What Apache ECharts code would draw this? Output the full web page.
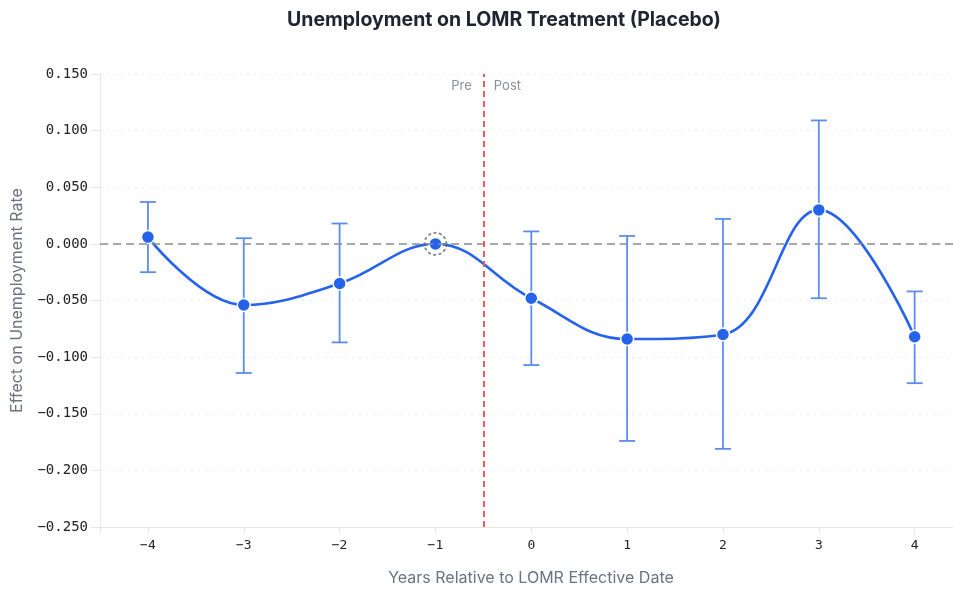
<!DOCTYPE html>
<html>
<head>
<meta charset="utf-8">
<script src="https://cdn.jsdelivr.net/npm/echarts@6/dist/echarts.min.js"></script>
<style>
  html, body { margin: 0; padding: 0; background: #ffffff; }
  #chart { width: 953px; height: 591px; }
</style>
</head>
<body>
<div id="chart"></div>
<script>
// Event-study estimates: years relative to the LOMR effective date
const years = [-4, -3, -2, -1, 0, 1, 2, 3, 4];
const estimates = [0.006, -0.054, -0.035, 0.000, -0.048, -0.084, -0.080, 0.030, -0.082];
const ciLower = [-0.025, -0.114, -0.087, null, -0.107, -0.174, -0.181, -0.048, -0.123];
const ciUpper = [0.037, 0.005, 0.018, null, 0.011, 0.007, 0.022, 0.109, -0.042];
const referenceYear = -1;
const treatmentBoundary = -0.5;
const yTicks = [-0.25, -0.2, -0.15, -0.1, -0.05, 0, 0.05, 0.1, 0.15];

const MINUS = '\u2212';
const fmtY = v => (v < -1e-9 ? MINUS : '') + Math.abs(v).toFixed(3);
const fmtX = v => (v < 0 ? MINUS : '') + Math.abs(Math.round(v));

const lineData = years.map((x, i) => [x, estimates[i]]);
const barData = years
  .map((x, i) => [x, ciLower[i], ciUpper[i]])
  .filter(d => d[1] != null && d[2] != null);

const chart = echarts.init(document.getElementById('chart'), null, { renderer: 'canvas' });

const sans = 'Inter, "Noto Sans", sans-serif';
const mono = '"DejaVu Sans Mono", monospace';
const gray = '#6b7280';
const light = '#e5e7eb';

chart.setOption({
  animation: false,
  backgroundColor: '#ffffff',
  title: {
    text: 'Unemployment on LOMR Treatment (Placebo)',
    left: 282,
    top: 5,
    textStyle: { fontFamily: sans, fontSize: 19.5, fontWeight: 'bold', color: '#1f2430' }
  },
  grid: { left: 100, right: 0, top: 74, bottom: 62, containLabel: false },
  xAxis: {
    type: 'value',
    min: -4.5,
    max: 4.4,
    name: 'Years Relative to LOMR Effective Date',
    nameLocation: 'middle',
    nameGap: 43,
    nameTextStyle: { fontFamily: sans, fontSize: 16, color: gray, padding: [0, 0, 0, 9] },
    axisLine: { show: true, onZero: false, lineStyle: { color: light, width: 1 } },
    axisTick: { show: true, length: 7, lineStyle: { color: light }, customValues: [-4.5].concat(years) },
    axisLabel: { customValues: years, formatter: fmtX, fontFamily: mono, fontSize: 13, color: '#222', margin: 12 },
    splitLine: { show: false }
  },
  yAxis: {
    type: 'value',
    min: -0.25,
    max: 0.15,
    interval: 0.05,
    name: 'Effect on Unemployment Rate',
    nameLocation: 'middle',
    nameGap: 75,
    nameTextStyle: { fontFamily: sans, fontSize: 16, color: gray },
    axisLine: { show: true, onZero: false, lineStyle: { color: light, width: 1 } },
    axisTick: { show: true, length: 9, lineStyle: { color: light } },
    axisLabel: { formatter: fmtY, fontFamily: mono, fontSize: 14, color: '#222', margin: 12 },
    splitLine: { show: true, lineStyle: { color: '#ececef', type: [2, 5], width: 1 } }
  },
  series: [
    {
      // confidence intervals
      type: 'custom',
      z: 2,
      data: barData,
      renderItem: (params, api) => {
        const x = api.value(0);
        const lo = api.coord([x, api.value(1)]);
        const hi = api.coord([x, api.value(2)]);
        const half = 8;
        const style = { stroke: '#5b8def', lineWidth: 1.8 };
        return {
          type: 'group',
          children: [
            { type: 'line', shape: { x1: lo[0], y1: lo[1], x2: hi[0], y2: hi[1] }, style },
            { type: 'line', shape: { x1: hi[0] - half, y1: hi[1], x2: hi[0] + half, y2: hi[1] }, style },
            { type: 'line', shape: { x1: lo[0] - half, y1: lo[1], x2: lo[0] + half, y2: lo[1] }, style }
          ]
        };
      },
      silent: true
    },
    {
      type: 'line',
      z: 4,
      data: lineData,
      smooth: 0.4,
      symbol: 'circle',
      symbolSize: 13,
      showAllSymbol: true,
      lineStyle: { color: '#2563eb', width: 2.6 },
      itemStyle: { color: '#2563eb', borderColor: '#ffffff', borderWidth: 1.5 },
      markLine: {
        silent: true,
        symbol: 'none',
        label: { show: false },
        data: [
          { yAxis: 0, lineStyle: { color: '#8a8d96', type: [8, 5], width: 1.6 } },
          { xAxis: treatmentBoundary, lineStyle: { color: '#ec5a5a', type: [6, 4], width: 2 } }
        ]
      }
    },
    {
      // reference-period ring
      type: 'scatter',
      z: 5,
      data: [[referenceYear, 0]],
      symbol: 'circle',
      symbolSize: 22,
      itemStyle: { color: 'rgba(0,0,0,0)', borderColor: '#60646d', borderWidth: 1.8, borderType: [3, 2.5] },
      silent: true
    },
    {
      // Pre / Post labels beside the treatment boundary
      type: 'scatter',
      z: 3,
      symbolSize: 1,
      itemStyle: { color: 'rgba(0,0,0,0)' },
      silent: true,
      data: [
        { value: [treatmentBoundary, 0.139], label: { show: true, formatter: 'Pre', position: 'left', distance: 11 } },
        { value: [treatmentBoundary, 0.139], label: { show: true, formatter: 'Post', position: 'right', distance: 10 } }
      ],
      label: { fontFamily: sans, fontSize: 13, color: '#6b7280' }
    }
  ]
});
</script>
</body>
</html>
